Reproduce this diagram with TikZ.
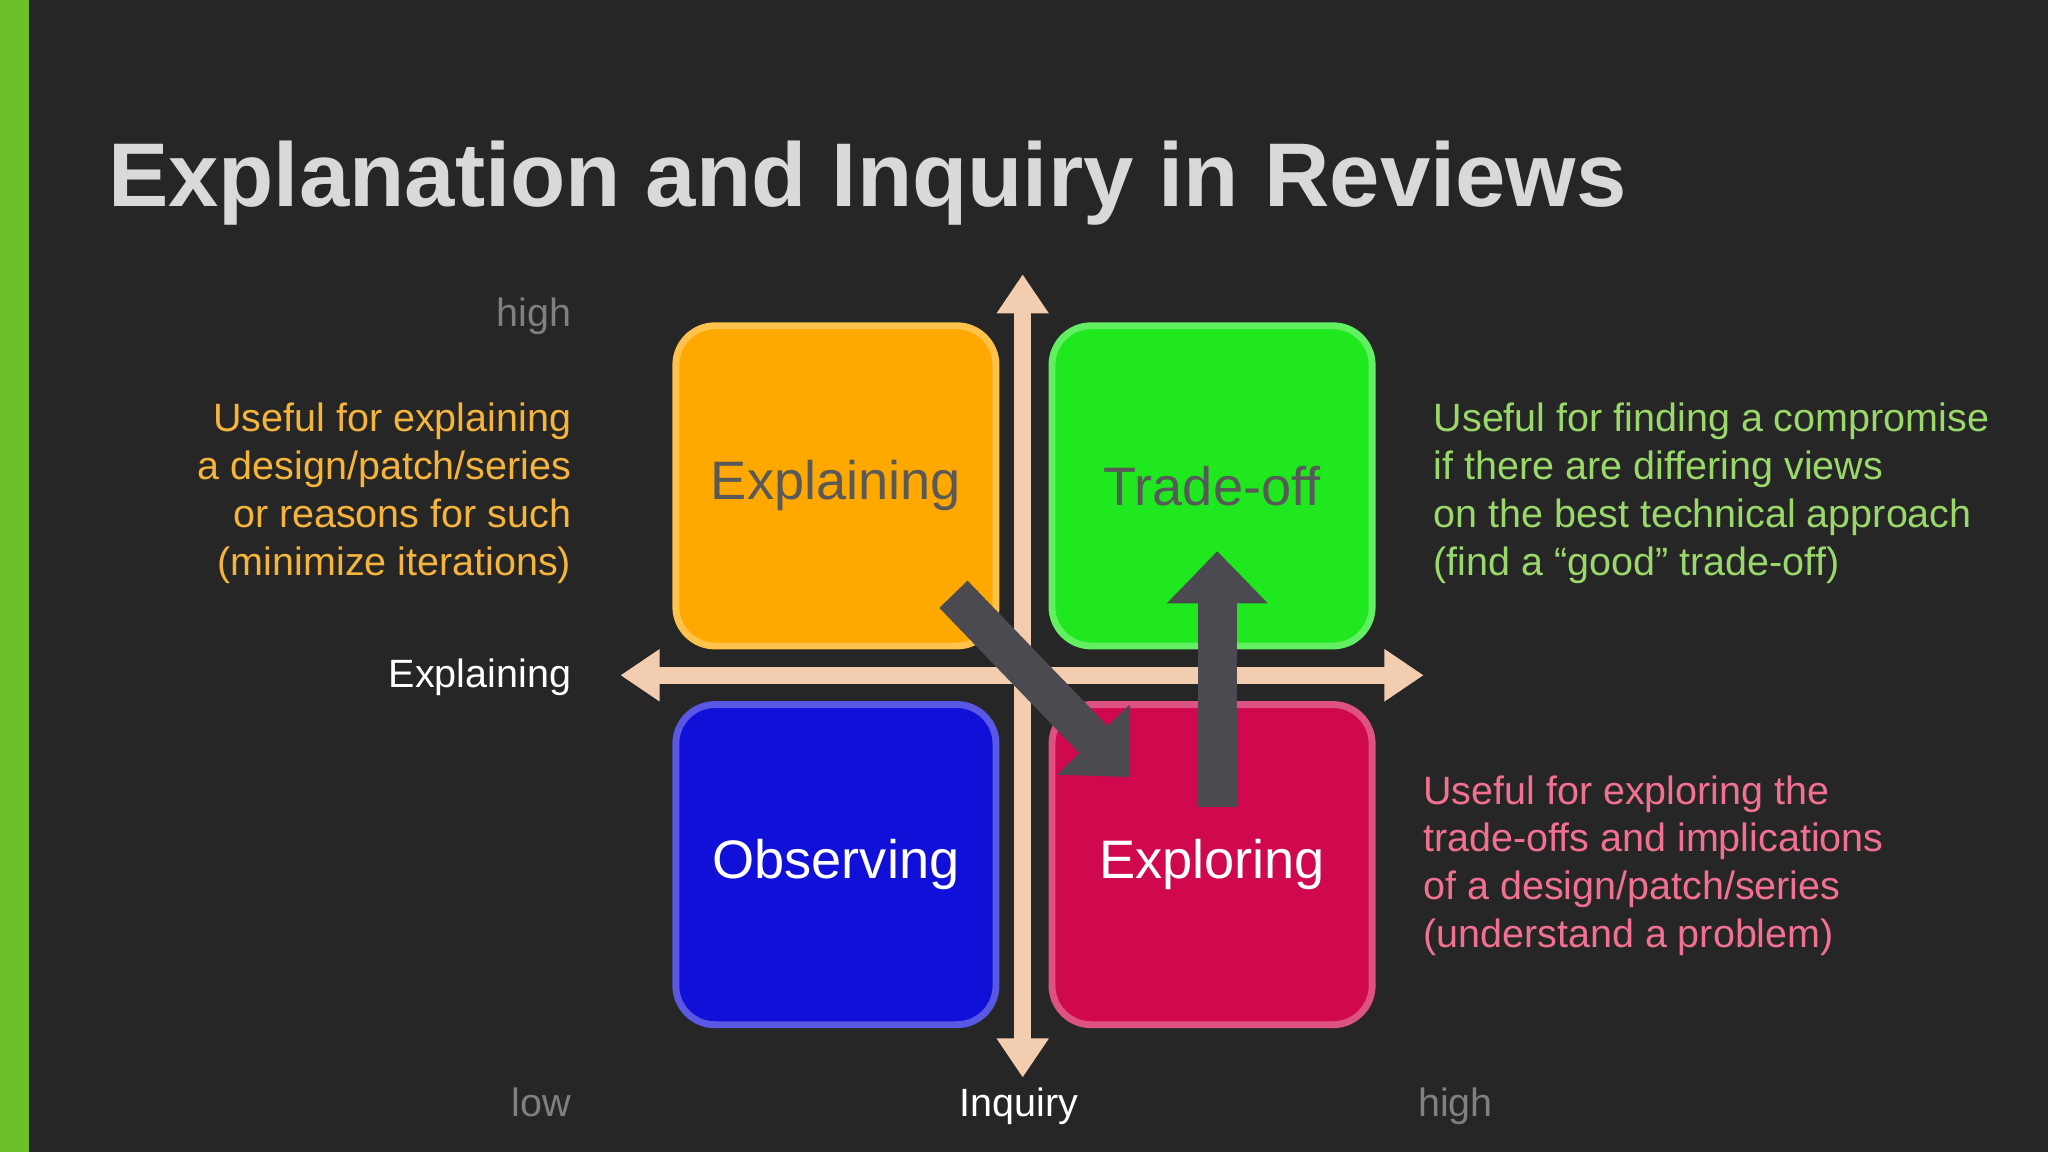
\documentclass[tikz,border=0pt]{standalone}
\usepackage{fontspec}
\setmainfont{Liberation Sans}
\usetikzlibrary{positioning,arrows.meta}
\definecolor{bgdark}{HTML}{262626}
\definecolor{barGreen}{HTML}{6CC02A}
\definecolor{axisPeach}{HTML}{F2CDB0}
\definecolor{boxOrange}{HTML}{FFA800}
\definecolor{boxGreen}{HTML}{1FE81F}
\definecolor{boxBlue}{HTML}{1010D8}
\definecolor{boxRed}{HTML}{D0084E}
\definecolor{txtOrange}{HTML}{F5B43C}
\definecolor{txtGreen}{HTML}{9AD86A}
\definecolor{txtPink}{HTML}{F27090}
\definecolor{arrowGray}{HTML}{4A4A50}
\begin{document}
\begin{tikzpicture}[x=0.01cm,y=-0.01cm,
    quad/.style={draw=#1!70!white, line width=1.5pt, fill=#1, rectangle, rounded corners=0.3cm, minimum width=2.45cm, minimum height=2.45cm, font=\fontsize{11.8}{14}\selectfont},
    axis/.style={axisPeach, line width=0.13cm, {Triangle[length=0.3cm,width=0.38cm]}-{Triangle[length=0.3cm,width=0.38cm]}},
    bigarrow/.style={line width=0.3cm, -{Triangle[length=0.4cm,width=0.75cm]}},
    note/.style={font=\fontsize{8.6}{10.4}\selectfont, align=left, inner sep=0pt},
    tick/.style={font=\fontsize{8.6}{10}\selectfont, inner sep=0pt}
]
\useasboundingbox (0,0) rectangle (1568,882);
\fill[bgdark] (0,0) rectangle (1568,882);
\fill[barGreen] (0,0) rectangle (22,882);

% Title
\node[anchor=base west, inner sep=0pt, text=white!85!black, font=\bfseries\fontsize{19.7}{22}\selectfont] (title) at (82,158) {Explanation and Inquiry in Reviews};

% Quadrants
\node[quad=boxOrange, text=black!65] (explain) at (640,372) {Explaining};
\node[quad=boxGreen, text=black!65] (trade) at (928,372) {Trade-off};
\node[quad=boxBlue, text=white] (observe) at (640,662) {Observing};
\node[quad=boxRed, text=white] (explore) at (928,662) {Exploring};

% Axes
\coordinate (ytop) at (783,210);
\coordinate (ybot) at (783,825);
\coordinate (xleft) at (475,517);
\coordinate (xright) at (1090,517);
\draw[axis] (ybot) -- (ytop);
\draw[axis] (xleft) -- (xright);

% Transition arrows
\coordinate (d1) at (730,455);
\coordinate (d2) at (865,595);
\coordinate (u1) at (932,618);
\coordinate (u2) at (932,422);
\draw[bigarrow, arrowGray] (d1) -- (d2);
\draw[bigarrow, arrowGray] (u1) -- (u2);

% Axis labels
\node[tick, anchor=base east, text=gray] (hiy) at (438,250) {high};
\node[tick, anchor=base east, text=white] (xlab) at (438,526) {Explaining};
\node[tick, anchor=base east, text=gray] (lo) at (438,855) {low};
\node[tick, anchor=base, text=white] (ylab) at (780,855) {Inquiry};
\node[tick, anchor=base west, text=gray] (hix) at (1085,855) {high};

% Notes
\node[note, align=right, anchor=north east, text=txtOrange] (noteE) at (438,308) {Useful for explaining\\a design/patch/series\\or reasons for such\\(minimize iterations)};
\node[note, anchor=north west, text=txtGreen] (noteT) at (1097,308) {Useful for finding a compromise\\if there are differing views\\on the best technical approach\\(find a “good” trade-off)};
\node[note, anchor=north west, text=txtPink] (noteX) at (1089,593) {Useful for exploring the\\trade-offs and implications\\of a design/patch/series\\(understand a problem)};
\end{tikzpicture}
\end{document}
